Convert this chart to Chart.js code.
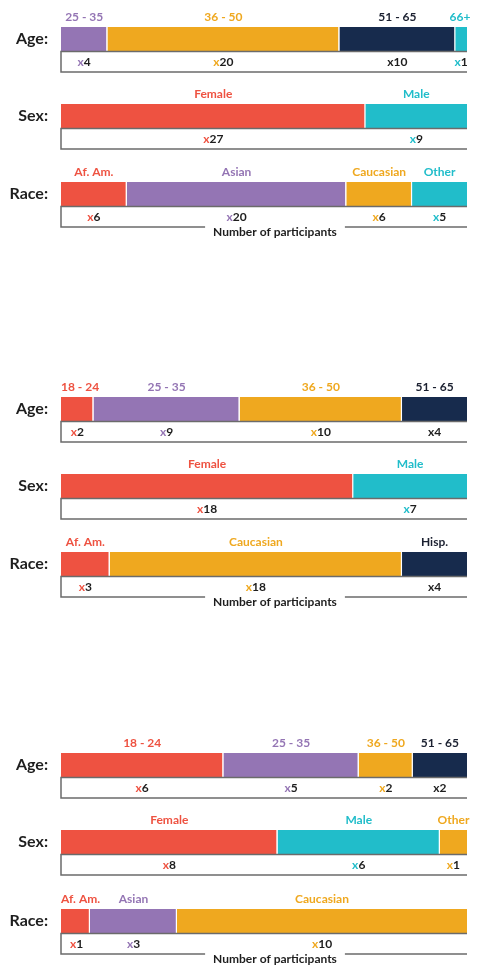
<!DOCTYPE html>
<html><head><meta charset="utf-8">
<script src="https://cdn.jsdelivr.net/npm/chart.js@4"></script>
<style>
html,body{margin:0;padding:0;background:#fff;}
#wrap{position:relative;width:478px;height:965px;overflow:hidden;}
.row{position:absolute;left:0;width:478px;}
</style></head><body><div id="wrap"></div>
<script>
// ---------- DATA ----------
// Panel 1
const p1AgeCats = ['25 - 35', '36 - 50', '51 - 65', '66+'];
const p1AgeVals = [4, 20, 10, 1];
const p1SexCats = ['Female', 'Male'];
const p1SexVals = [27, 9];
const p1RaceCats = ['Af. Am.', 'Asian', 'Caucasian', 'Other'];
const p1RaceVals = [6, 20, 6, 5];
// Panel 2
const p2AgeCats = ['18 - 24', '25 - 35', '36 - 50', '51 - 65'];
const p2AgeVals = [2, 9, 10, 4];
const p2SexCats = ['Female', 'Male'];
const p2SexVals = [18, 7];
const p2RaceCats = ['Af. Am.', 'Caucasian', 'Hisp.'];
const p2RaceVals = [3, 18, 4];
// Panel 3
const p3AgeCats = ['18 - 24', '25 - 35', '36 - 50', '51 - 65'];
const p3AgeVals = [6, 5, 2, 2];
const p3SexCats = ['Female', 'Male', 'Other'];
const p3SexVals = [8, 6, 1];
const p3RaceCats = ['Af. Am.', 'Asian', 'Caucasian'];
const p3RaceVals = [1, 3, 10];

const rowNames = ['Age:', 'Sex:', 'Race:'];
const axisTitle = 'Number of participants';

// ---------- STYLES ----------
const RED = '#EE5241', PURPLE = '#9475B4', GOLD = '#EFA81F', NAVY = '#172B4D', TEAL = '#21BDCA';
const p1AgeColors = [PURPLE, GOLD, NAVY, TEAL];
const p1SexColors = [RED, TEAL];
const p1RaceColors = [RED, PURPLE, GOLD, TEAL];
const p2AgeColors = [RED, PURPLE, GOLD, NAVY];
const p2SexColors = [RED, TEAL];
const p2RaceColors = [RED, GOLD, NAVY];
const p3AgeColors = [RED, PURPLE, GOLD, NAVY];
const p3SexColors = [RED, TEAL, GOLD];
const p3RaceColors = [RED, PURPLE, GOLD];

const labelColor = c => (c === NAVY ? '#1b2030' : c);
const TEXT = '#1e1e1e';
const LINE = '#6b6b6b';
const BOX = 20.5;
const TOPPAD = 27;
const BAR = 24.5;

const rows = [
  {top: 0,   name: rowNames[0], cats: p1AgeCats,  vals: p1AgeVals,  colors: p1AgeColors},
  {top: 77,  name: rowNames[1], cats: p1SexCats,  vals: p1SexVals,  colors: p1SexColors},
  {top: 155, name: rowNames[2], cats: p1RaceCats, vals: p1RaceVals, colors: p1RaceColors, title: axisTitle},
  {top: 370, name: rowNames[0], cats: p2AgeCats,  vals: p2AgeVals,  colors: p2AgeColors},
  {top: 447, name: rowNames[1], cats: p2SexCats,  vals: p2SexVals,  colors: p2SexColors},
  {top: 525, name: rowNames[2], cats: p2RaceCats, vals: p2RaceVals, colors: p2RaceColors, title: axisTitle},
  {top: 726, name: rowNames[0], cats: p3AgeCats,  vals: p3AgeVals,  colors: p3AgeColors},
  {top: 803, name: rowNames[1], cats: p3SexCats,  vals: p3SexVals,  colors: p3SexColors},
  {top: 882, name: rowNames[2], cats: p3RaceCats, vals: p3RaceVals, colors: p3RaceColors, title: axisTitle}
];

const annot = {
  id: 'annot',
  afterDatasetsDraw(chart, args, opts) {
    const ctx = chart.ctx, a = chart.chartArea, x = chart.scales.x;
    const rightLimit = 470.5;
    ctx.save();
    // box outline
    const boxB = a.bottom + BOX;
    ctx.strokeStyle = LINE;
    ctx.lineWidth = 1.5;
    ctx.beginPath();
    ctx.moveTo(a.right, a.bottom);
    ctx.lineTo(a.left, a.bottom);
    ctx.lineTo(a.left, boxB);
    ctx.font = 'bold 12px Lato';
    let tx = 0, tw = 0;
    if (opts.title) {
      tw = ctx.measureText(opts.title).width;
      tx = (a.left + a.right) / 2 + 11;
      ctx.lineTo(tx - tw / 2 - 8, boxB);
      ctx.moveTo(tx + tw / 2 + 8, boxB);
    }
    ctx.lineTo(a.right, boxB);
    ctx.stroke();
    ctx.textBaseline = 'middle';
    ctx.textAlign = 'left';
    if (opts.title) {
      ctx.fillStyle = TEXT;
      ctx.fillText(opts.title, tx - tw / 2, boxB + 5);
    }
    let cum = 0;
    opts.vals.forEach((v, i) => {
      const x0 = x.getPixelForValue(cum), x1 = x.getPixelForValue(cum + v);
      cum += v;
      const cx = (x0 + x1) / 2;
      // category label above the bar
      const w = ctx.measureText(opts.cats[i]).width;
      let lx = cx - w / 2;
      lx = Math.max(a.left, Math.min(lx, rightLimit - w));
      ctx.fillStyle = labelColor(opts.colors[i]);
      ctx.fillText(opts.cats[i], lx, a.top - 9.5);
      // count label in box
      const ns = String(v);
      const wx = ctx.measureText('x').width, wn = ctx.measureText(ns).width;
      let sx = cx - (wx + wn) / 2;
      sx = Math.max(a.left + 9, Math.min(sx, rightLimit - wx - wn));
      ctx.fillStyle = opts.colors[i] === NAVY ? TEXT : opts.colors[i];
      ctx.fillText('x', sx, a.bottom + BOX / 2);
      ctx.fillStyle = TEXT;
      ctx.fillText(ns, sx + wx, a.bottom + BOX / 2);
    });
    ctx.restore();
  }
};

const wrap = document.getElementById('wrap');
rows.forEach(r => {
  const bottomPad = BOX + (r.title ? 12 : 2);
  const h = TOPPAD + BAR + bottomPad;
  const div = document.createElement('div');
  div.className = 'row';
  div.style.top = r.top + 'px';
  div.style.height = h + 'px';
  const cv = document.createElement('canvas');
  cv.width = 478; cv.height = h;
  cv.style.width = '478px'; cv.style.height = h + 'px';
  div.appendChild(cv);
  wrap.appendChild(div);
  const total = r.vals.reduce((s, v) => s + v, 0);
  new Chart(cv, {
    type: 'bar',
    data: {
      labels: [r.name],
      datasets: r.vals.map((v, i) => ({
        label: r.cats[i],
        data: [v],
        backgroundColor: r.colors[i],
        borderColor: '#ffffff',
        borderWidth: i < r.vals.length - 1 ? {top: 0, right: 1.2, bottom: 0, left: 0} : 0,
        borderSkipped: false,
        barPercentage: 1,
        categoryPercentage: 1,
        inflateAmount: 0
      }))
    },
    options: {
      indexAxis: 'y',
      responsive: false,
      animation: false,
      events: [],
      layout: {padding: {top: TOPPAD, right: 11, bottom: bottomPad, left: 0}},
      plugins: {
        legend: {display: false},
        tooltip: {enabled: false},
        annot: {cats: r.cats, vals: r.vals, colors: r.colors, title: r.title}
      },
      scales: {
        x: {type: 'linear', stacked: true, min: 0, max: total, display: false},
        y: {
          stacked: true,
          grid: {display: false, drawTicks: false},
          border: {display: false},
          ticks: {font: {family: 'Lato', weight: 'bold', size: 16}, color: TEXT, padding: 13},
          afterFit(s) { s.width = 61; }
        }
      }
    },
    plugins: [annot]
  });
});
</script>
</body></html>
